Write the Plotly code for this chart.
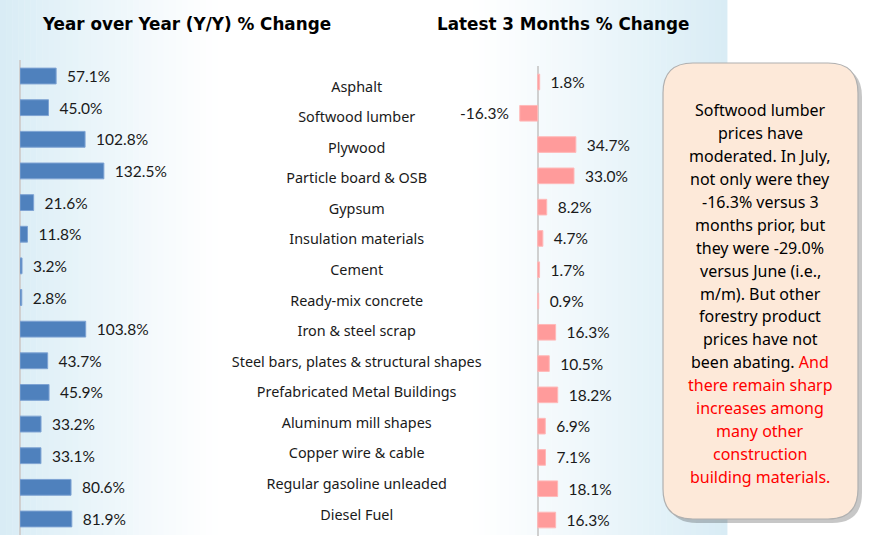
import plotly.graph_objects as go

categories = ["Asphalt", "Softwood lumber", "Plywood", "Particle board & OSB", "Gypsum",
              "Insulation materials", "Cement", "Ready-mix concrete", "Iron & steel scrap",
              "Steel bars, plates & structural shapes", "Prefabricated Metal Buildings",
              "Aluminum mill shapes", "Copper wire & cable", "Regular gasoline unleaded",
              "Diesel Fuel"]
yoy_change = [57.1, 45.0, 102.8, 132.5, 21.6, 11.8, 3.2, 2.8, 103.8, 43.7, 45.9, 33.2, 33.1, 80.6, 81.9]
three_month_change = [1.8, -16.3, 34.7, 33.0, 8.2, 4.7, 1.7, 0.9, 16.3, 10.5, 18.2, 6.9, 7.1, 18.1, 16.3]

title_left = "Year over Year (Y/Y) % Change"
title_right = "Latest 3 Months % Change"
callout_lines = [
    ("Softwood lumber", "black"), ("prices have", "black"), ("moderated. In July,", "black"),
    ("not only were they", "black"), ("-16.3% versus 3", "black"), ("months prior, but", "black"),
    ("they were -29.0%", "black"), ("versus June (i.e.,", "black"), ("m/m). But other", "black"),
    ("forestry product", "black"), ("prices have not", "black"),
    ("been abating. <span style='color:#FF0000'>And</span>", "black"),
    ("there remain sharp", "#FF0000"), ("increases among", "#FF0000"), ("many other", "#FF0000"),
    ("construction", "#FF0000"), ("building materials.", "#FF0000"),
]

W, H = 870, 540
def px(x):
    return x / W
def py(y):
    return 1 - y / H

VAL_FONT = dict(family="Lato", size=15.5, color="#1a1a1a")

fig = go.Figure()

fig.add_trace(go.Bar(
    x=yoy_change, y=categories, orientation="h",
    marker=dict(color="#4F81BD", line=dict(color="#7EA3D3", width=1)),
    text=[f"  {v:.1f}%" for v in yoy_change], textposition="outside",
    textfont=VAL_FONT, constraintext="none", cliponaxis=False,
    xaxis="x", yaxis="y", hoverinfo="skip", showlegend=False,
))

fig.add_trace(go.Scatter(
    x=[0.5] * len(categories), y=categories, mode="text", text=categories,
    textfont=dict(family="Noto Sans", size=14.4, color="#1a1a1a"),
    textposition="middle center", xaxis="x2", yaxis="y2", hoverinfo="skip", showlegend=False,
    cliponaxis=False,
))

fig.add_trace(go.Bar(
    x=three_month_change, y=categories, orientation="h",
    marker=dict(color="#FF9B9B", line=dict(color="#FFB9B9", width=1)),
    text=[(f"  {v:.1f}%" if v >= 0 else f"{v:.1f}%  ") for v in three_month_change],
    textposition="outside", textfont=VAL_FONT, constraintext="none", cliponaxis=False,
    xaxis="x3", yaxis="y3", hoverinfo="skip", showlegend=False,
))

shapes = []
# background gradient strips
n = 120
x_end = 727
for i in range(n):
    x0 = x_end * i / n
    x1 = x_end * (i + 1) / n
    xc = (x0 + x1) / 2
    if xc < 220:
        t = (220 - xc) / 220
    elif xc > 470:
        t = (xc - 470) / (x_end - 470)
    else:
        t = 0
    t = max(0, min(1, t)) ** 1.1
    r = round(255 + (216 - 255) * t)
    g = round(255 + (236 - 255) * t)
    b = round(255 + (245 - 255) * t)
    shapes.append(dict(type="rect", xref="paper", yref="paper", x0=px(x0), x1=px(x1) + 0.0005,
                       y0=py(535), y1=1, fillcolor=f"rgb({r},{g},{b})", line=dict(width=0),
                       layer="below"))

def rounded_path(x0, y0, x1, y1, r):
    rx, ry = r / W, r / H
    X0, X1 = px(x0), px(x1)
    Y0, Y1 = py(y0), py(y1)  # Y0 top, Y1 bottom
    return (f"M {X0+rx},{Y0} L {X1-rx},{Y0} Q {X1},{Y0} {X1},{Y0-ry} "
            f"L {X1},{Y1+ry} Q {X1},{Y1} {X1-rx},{Y1} L {X0+rx},{Y1} "
            f"Q {X0},{Y1} {X0},{Y1+ry} L {X0},{Y0-ry} Q {X0},{Y0} {X0+rx},{Y0} Z")

shapes.append(dict(type="path", xref="paper", yref="paper", path=rounded_path(667, 67, 862, 523, 30),
                   fillcolor="rgba(0,0,0,0.22)", line=dict(width=0)))
shapes.append(dict(type="path", xref="paper", yref="paper", path=rounded_path(663, 63, 858, 519, 30),
                   fillcolor="#FDE9D9", line=dict(color="#B0B0B0", width=1.2)))

annotations = [
    dict(text=f"<b>{title_left}</b>", x=px(186), y=py(24), xref="paper", yref="paper",
         showarrow=False, font=dict(family="DejaVu Sans", size=16.8, color="black"),
         xanchor="center", yanchor="middle"),
    dict(text=f"<b>{title_right}</b>", x=px(563), y=py(24), xref="paper", yref="paper",
         showarrow=False, font=dict(family="DejaVu Sans", size=16.8, color="black"),
         xanchor="center", yanchor="middle"),
]
for i, (line, color) in enumerate(callout_lines):
    annotations.append(dict(text=line, x=px(760), y=py(110 + i * 22.94), xref="paper", yref="paper",
                            showarrow=False, font=dict(family="Noto Sans", size=16, color=color),
                            xanchor="center", yanchor="middle"))

axis_common = dict(showgrid=False, showticklabels=False, ticks="", fixedrange=True)
cat_range = [len(categories) - 0.5, -0.5]

fig.update_layout(
    width=W, height=H, margin=dict(l=0, r=0, t=0, b=0),
    paper_bgcolor="white", plot_bgcolor="rgba(0,0,0,0)",
    bargap=0.5, shapes=shapes, annotations=annotations,
    xaxis=dict(domain=[px(20), px(20 + 300 * 0.633)], range=[0, 300], zeroline=True,
               zerolinecolor="#D0D0D0", zerolinewidth=1.5, **axis_common),
    yaxis=dict(domain=[py(534.8), py(60.2)], range=cat_range, type="category",
               zeroline=False, showline=False, **axis_common),
    xaxis2=dict(domain=[0.25, 0.57], range=[0, 1], zeroline=False, anchor="y2", **axis_common),
    yaxis2=dict(domain=[py(531.3), py(72.7)], range=cat_range, type="category",
                anchor="x2", zeroline=False, **axis_common),
    xaxis3=dict(domain=[px(537.7 - 30 * 1.1), px(537.7 + 60 * 1.1)], range=[-30, 60], anchor="y3",
                zeroline=True, zerolinecolor="#D0D0D0", zerolinewidth=1.5, **axis_common),
    yaxis3=dict(domain=[py(535.65), py(66.35)], range=cat_range, type="category",
                anchor="x3", zeroline=False, **axis_common),
)

fig.write_html("out.html", config={"displayModeBar": False},
               post_script="document.body.style.margin='0';document.body.style.overflow='hidden';")
